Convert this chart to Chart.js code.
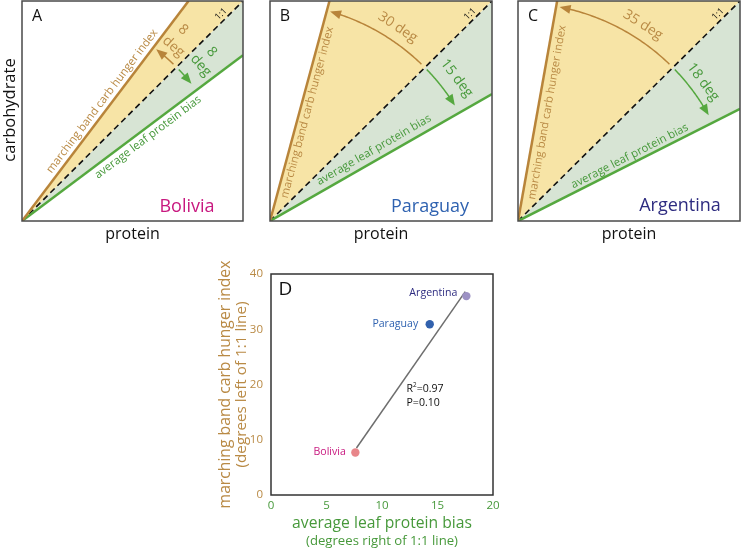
<!DOCTYPE html>
<html><head><meta charset="utf-8">
<script src="https://cdn.jsdelivr.net/npm/chart.js@4.4.1/dist/chart.umd.min.js"></script>
<style>
html,body{margin:0;padding:0;background:#fff;}
#wrap{position:relative;width:741px;height:550px;overflow:hidden;background:#fff;}
#wrap canvas{position:absolute;left:0;top:0;}
</style></head>
<body>
<div id="wrap">
<canvas id="cA" width="741" height="550"></canvas>
<canvas id="cB" width="741" height="550"></canvas>
<canvas id="cC" width="741" height="550"></canvas>
<canvas id="cD" width="741" height="550"></canvas>
</div>
<script>
// ---------------- DATA ----------------
const countries = ['Bolivia', 'Paraguay', 'Argentina'];
const panelLetters = ['A', 'B', 'C'];
const carbHungerDeg = [8, 30, 35];      // degrees left of the 1:1 line
const proteinBiasDeg = [8, 15, 18];     // degrees right of the 1:1 line
const biasX = [7.6, 14.3, 17.6];        // panel D x values
const hungerY = [7.7, 30.9, 36.0];      // panel D y values
const fitLineX = [7.7, 17.5];
const fitLineY = [8.5, 36.8];
const xTickValues = [0, 5, 10, 15, 20];
const yTickValues = [0, 10, 20, 30, 40];
const statLines = ['R', '2', '=0.97', 'P=0.10'];
const panelAxisTitles = ['protein', 'carbohydrate'];
const dTitles = ['average leaf protein bias', '(degrees right of 1:1 line)', 'marching band carb hunger index', '(degrees left of 1:1 line)'];
const lineLabels = ['marching band carb hunger index', 'average leaf protein bias', '1:1'];

// ---------------- STYLE ----------------
const FAMILY = "'Open Sans', 'DejaVu Sans', sans-serif";
Chart.defaults.font.family = FAMILY;
const BROWN = '#b8843a', BROWN_T = '#b98a45', GREEN = '#55a83f', GREEN_T = '#47993b';
const YELLOW_FILL = '#f7e4a6', GREEN_FILL = '#d7e4d4';
const countryColors = ['#c8187f', '#2f62b0', '#2e2c80'];
const pointColors = ['#e8868a', '#3161ad', '#9d92c4'];
const FRAME = '#4a4a4a';

const mctx = document.createElement('canvas').getContext('2d');
function fitSize(text, width) { mctx.font = '100px ' + FAMILY; return 100 * width / mctx.measureText(text).width; }
function font(sz) { return sz.toFixed(2) + 'px ' + FAMILY; }

const panelBoxes = [{l: 22, r: 243}, {l: 270, r: 492}, {l: 518, r: 740}];
const PTOP = 1, PBOTTOM = 221;
// label placements (style)
const alongPos = [
  {bd: 144, bo: 8, gd: 151, go: -9},
  {bd: 114.5, bo: -8, gd: 125.5, go: 9.5},
  {bd: 112, bo: -10, gd: 129, go: 7}
];
const arcLabelPos = [
  {b: [[250, 49.9], [231, 49]], g: [[254, 41.7], [237, 41]]},
  {b: [[232, 56.6]], g: [[235, 37.4]]},
  {b: [[232.5, 57.5]], g: [[231.4, 36.9]]}
];
const countryOff = [[-56, -14], [-62, -14], [-60, -15]];
const ARC_R = 218;

const sizeBrownLabel = fitSize(lineLabels[0], 177);
const sizeGreenLabel = fitSize(lineLabels[1], 130);

function polar(o, r, deg) { const a = deg * Math.PI / 180; return {x: o.x + r * Math.cos(a), y: o.y - r * Math.sin(a)}; }

function drawArcArrow(ctx, o, r, from, to, color) {
  const sign = to > from ? 1 : -1;
  const headLen = 11, headW = 4.5;
  const headDeg = headLen / r * 180 / Math.PI;
  const stop = to - sign * headDeg * 0.7;
  ctx.save();
  ctx.beginPath();
  const n = 50;
  for (let k = 0; k <= n; k++) {
    const p = polar(o, r, from + (stop - from) * k / n);
    if (k) ctx.lineTo(p.x, p.y); else ctx.moveTo(p.x, p.y);
  }
  ctx.strokeStyle = color; ctx.lineWidth = 1.5; ctx.stroke();
  const tip = polar(o, r, to), base = polar(o, r, to - sign * headDeg);
  const dx = tip.x - base.x, dy = tip.y - base.y, L = Math.hypot(dx, dy);
  const ux = dx / L, uy = dy / L;
  ctx.beginPath();
  ctx.moveTo(tip.x, tip.y);
  ctx.lineTo(base.x - uy * headW, base.y + ux * headW);
  ctx.lineTo(base.x + uy * headW, base.y - ux * headW);
  ctx.closePath(); ctx.fillStyle = color; ctx.fill();
  ctx.restore();
}

function textAt(ctx, txt, x, y, rot, color, f, align) {
  ctx.save();
  ctx.translate(x, y); ctx.rotate(rot);
  ctx.fillStyle = color; ctx.font = f;
  ctx.textAlign = align || 'center'; ctx.textBaseline = 'middle';
  ctx.fillText(txt, 0, 0);
  ctx.restore();
}

function makePanel(i, canvasId) {
  const c = carbHungerDeg[i], p = proteinBiasDeg[i];
  const aB = (45 + c) * Math.PI / 180, aG = (45 - p) * Math.PI / 180;
  const brownEnd = {x: 1 / Math.tan(aB), y: 1};
  const greenEnd = {x: 1, y: Math.tan(aG)};
  const O = {x: 0, y: 0}, D = {x: 1, y: 1};
  const box = panelBoxes[i];

  const panelPlugin = {
    id: 'panelDeco' + i,
    afterDraw(chart) {
      const ctx = chart.ctx, a = chart.chartArea;
      const xs = chart.scales.x, ys = chart.scales.y;
      const o = {x: xs.getPixelForValue(0), y: ys.getPixelForValue(0)};
      // frame
      ctx.save(); ctx.strokeStyle = FRAME; ctx.lineWidth = 1.5;
      ctx.strokeRect(a.left, a.top, a.right - a.left, a.bottom - a.top); ctx.restore();
      // arcs
      drawArcArrow(ctx, o, ARC_R, 46, 45 + c - 1, BROWN);
      drawArcArrow(ctx, o, ARC_R, 44, 45 - p + 2, GREEN);
      // arc labels
      const bl = arcLabelPos[i].b, gl = arcLabelPos[i].g;
      const bTexts = bl.length === 2 ? [String(c), 'deg'] : [c + ' deg'];
      const gTexts = gl.length === 2 ? [String(p), 'deg'] : [p + ' deg'];
      bl.forEach((rp, k) => { const q = polar(o, rp[0], rp[1]); textAt(ctx, bTexts[k], q.x, q.y, (90 - rp[1]) * Math.PI / 180, BROWN_T, font(14)); });
      gl.forEach((rp, k) => { const q = polar(o, rp[0], rp[1]); textAt(ctx, gTexts[k], q.x, q.y, (90 - rp[1]) * Math.PI / 180, GREEN_T, font(14)); });
      // along-line labels
      const ap = alongPos[i];
      const pb = polar(o, ap.bd, 45 + c), nb = {x: -Math.sin(aB), y: -Math.cos(aB)};
      textAt(ctx, lineLabels[0], pb.x + nb.x * ap.bo, pb.y + nb.y * ap.bo, -aB, BROWN_T, font(sizeBrownLabel));
      const pg = polar(o, ap.gd, 45 - p), ng = {x: -Math.sin(aG), y: -Math.cos(aG)};
      textAt(ctx, lineLabels[1], pg.x + ng.x * ap.go, pg.y + ng.y * ap.go, -aG, GREEN_T, font(sizeGreenLabel));
      // 1:1
      textAt(ctx, lineLabels[2], a.right - 22, a.top + 13, -Math.PI / 4, '#111', font(9));
      // letter
      textAt(ctx, panelLetters[i], a.left + 15, a.top + 15, 0, '#111', font(16));
      // country
      textAt(ctx, countries[i], a.right + countryOff[i][0], a.bottom + countryOff[i][1], 0, countryColors[i], font(18));
      // axis titles
      textAt(ctx, panelAxisTitles[0], (a.left + a.right) / 2, a.bottom + 13, 0, '#111', font(16));
      if (i === 0) textAt(ctx, panelAxisTitles[1], 10, 110, -Math.PI / 2, '#111', font(16.5));
    }
  };

  return new Chart(document.getElementById(canvasId), {
    type: 'scatter',
    data: {datasets: [
      {data: [O, brownEnd], showLine: true, borderColor: BROWN, borderWidth: 2.5, pointRadius: 0, fill: false},
      {data: [O, greenEnd], showLine: true, borderColor: GREEN, borderWidth: 2.5, pointRadius: 0, fill: false},
      {data: [O, D], showLine: true, borderColor: '#111', borderWidth: 1.6, borderDash: [6, 4], pointRadius: 0, fill: false},
      {data: [O, brownEnd, D, O], showLine: true, borderColor: 'rgba(0,0,0,0)', borderWidth: 0, backgroundColor: YELLOW_FILL, pointRadius: 0, fill: 'shape'},
      {data: [O, D, greenEnd, O], showLine: true, borderColor: 'rgba(0,0,0,0)', borderWidth: 0, backgroundColor: GREEN_FILL, pointRadius: 0, fill: 'shape'}
    ]},
    options: {
      responsive: false, animation: false, events: [],
      layout: {padding: {left: box.l, right: 741 - box.r, top: PTOP, bottom: 550 - PBOTTOM}},
      plugins: {legend: {display: false}, tooltip: {enabled: false}},
      scales: {
        x: {type: 'linear', min: 0, max: 1, display: false},
        y: {type: 'linear', min: 0, max: 1, display: false}
      }
    },
    plugins: [panelPlugin]
  });
}

makePanel(0, 'cA');
makePanel(1, 'cB');
makePanel(2, 'cC');

// ---------------- PANEL D ----------------
const xTitleSize = fitSize(dTitles[0], 180);
const xSubSize = fitSize(dTitles[1], 152);
const yTitleSize = fitSize(dTitles[2], 248);
const ySubSize = fitSize(dTitles[3], 166);
const ptLabelSize = fitSize(countries[2], 48);
const labelOff = [[-9.5, 0], [-11.5, 0], [-9, -3]];

const dPlugin = {
  id: 'dDeco',
  afterDraw(chart) {
    const ctx = chart.ctx, a = chart.chartArea;
    const xs = chart.scales.x, ys = chart.scales.y;
    ctx.save(); ctx.strokeStyle = '#333'; ctx.lineWidth = 1.5;
    ctx.strokeRect(a.left, a.top, a.right - a.left, a.bottom - a.top); ctx.restore();
    textAt(ctx, 'D', a.left + 14.5, a.top + 15.5, 0, '#111', font(19));
    for (let i = 0; i < countries.length; i++) {
      const px = xs.getPixelForValue(biasX[i]), py = ys.getPixelForValue(hungerY[i]);
      textAt(ctx, countries[i], px + labelOff[i][0], py + labelOff[i][1], 0, countryColors[i], font(ptLabelSize), 'right');
    }
    // stats
    const sx = a.left + 135.5, sy1 = a.top + 114.5, sy2 = a.top + 129;
    ctx.save(); ctx.fillStyle = '#111'; ctx.textBaseline = 'middle'; ctx.textAlign = 'left';
    ctx.font = font(ptLabelSize);
    ctx.fillText(statLines[0], sx, sy1);
    const wR = ctx.measureText(statLines[0]).width;
    ctx.font = font(ptLabelSize * 0.6);
    ctx.fillText(statLines[1], sx + wR, sy1 - 3.5);
    const w2 = ctx.measureText(statLines[1]).width;
    ctx.font = font(ptLabelSize);
    ctx.fillText(statLines[2], sx + wR + w2, sy1);
    ctx.fillText(statLines[3], sx, sy2);
    ctx.restore();
    // subtitles
    textAt(ctx, dTitles[1], (a.left + a.right) / 2, 541.7, 0, GREEN_T, font(xSubSize));
    textAt(ctx, dTitles[3], 241.7, (a.top + a.bottom) / 2, -Math.PI / 2, BROWN_T, font(ySubSize));
  }
};

new Chart(document.getElementById('cD'), {
  type: 'scatter',
  data: {datasets: [
    {data: biasX.map((x, i) => ({x: x, y: hungerY[i]})), pointRadius: 4.2, pointBackgroundColor: pointColors, pointBorderWidth: 0, showLine: false},
    {data: fitLineX.map((x, i) => ({x: x, y: fitLineY[i]})), showLine: true, borderColor: '#6e6e6e', borderWidth: 1.5, pointRadius: 0}
  ]},
  options: {
    responsive: false, animation: false, events: [],
    layout: {padding: {left: 0, top: 274, right: 248, bottom: 0}},
    plugins: {legend: {display: false}, tooltip: {enabled: false}},
    scales: {
      x: {
        type: 'linear', min: 0, max: 20,
        afterBuildTicks: s => { s.ticks = xTickValues.map(v => ({value: v})); },
        afterFit: s => { s.height = 55; },
        grid: {display: false, drawTicks: false}, border: {display: false},
        ticks: {color: GREEN_T, font: {size: 11.5}, padding: 4, maxRotation: 0},
        title: {display: true, text: dTitles[0], color: GREEN_T, font: {size: xTitleSize}, padding: {top: 0, bottom: 26.5 - xTitleSize * 0.6}}
      },
      y: {
        type: 'linear', min: 0, max: 40,
        afterBuildTicks: s => { s.ticks = yTickValues.map(v => ({value: v})); },
        afterFit: s => { s.width = 271; },
        grid: {display: false, drawTicks: false}, border: {display: false},
        ticks: {color: BROWN_T, font: {size: 11.5}, padding: 8},
        title: {display: true, text: dTitles[2], color: BROWN_T, font: {size: yTitleSize}, padding: {top: 226 - yTitleSize * 0.6, bottom: 0}}
      }
    }
  },
  plugins: [dPlugin]
});
</script>
</body></html>
